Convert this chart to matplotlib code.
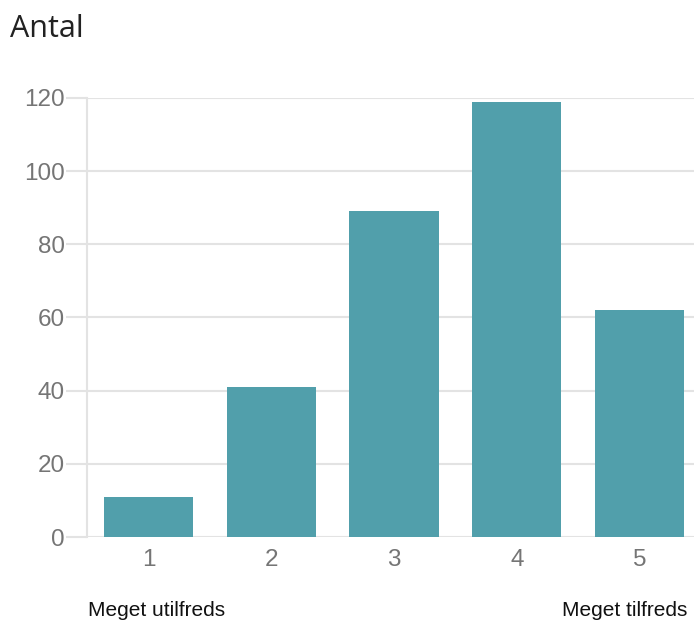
import matplotlib
matplotlib.use("Agg")
import matplotlib.pyplot as plt

categories = ["1", "2", "3", "4", "5"]
values = [11, 41, 89, 119, 62]
yticks = [0, 20, 40, 60, 80, 100, 120]
title = "Antal"
low_label = "Meget utilfreds"
high_label = "Meget tilfreds"

W, H = 694, 624
fig = plt.figure(figsize=(W / 100, H / 100), dpi=100)
ax = fig.add_axes([87 / W, (H - 537) / H, (701 - 87) / W, (537 - 98) / H])

x = list(range(1, len(categories) + 1))
ax.bar(x, values, width=0.725, color="#519fab", zorder=3)
ax.set_xlim(0.5, len(categories) + 0.5)
ax.set_ylim(0, 120)
ax.set_yticks(yticks)
ax.set_xticks(x)
ax.set_xticklabels(categories)
ax.grid(axis="y", color="#e3e3e3", linewidth=1.5, zorder=0)
for s in ["top", "right", "bottom"]:
    ax.spines[s].set_visible(False)
ax.spines["left"].set_color("#e3e3e3")
ax.spines["left"].set_linewidth(1.5)
ax.tick_params(axis="y", length=15, width=1.5, color="#e3e3e3", pad=1,
               labelsize=17.5, labelcolor="#757575")
ax.tick_params(axis="x", length=0, pad=9, labelsize=17.5, labelcolor="#757575")
for lbl in ax.get_xticklabels() + ax.get_yticklabels():
    lbl.set_family(["Liberation Sans", "DejaVu Sans"])

fig.text(10 / W, 1 - 37 / H, title, fontsize=22, color="#222222",
         family=["Open Sans", "DejaVu Sans"], ha="left", va="baseline")
fig.text(88 / W, 1 - 611 / H, low_label, fontsize=15, color="#111111",
         family=["Liberation Sans", "DejaVu Sans"], ha="left", va="center")
fig.text(687 / W, 1 - 611 / H, high_label, fontsize=15, color="#111111",
         family=["Liberation Sans", "DejaVu Sans"], ha="right", va="center")

fig.savefig("out.png", dpi=100)
